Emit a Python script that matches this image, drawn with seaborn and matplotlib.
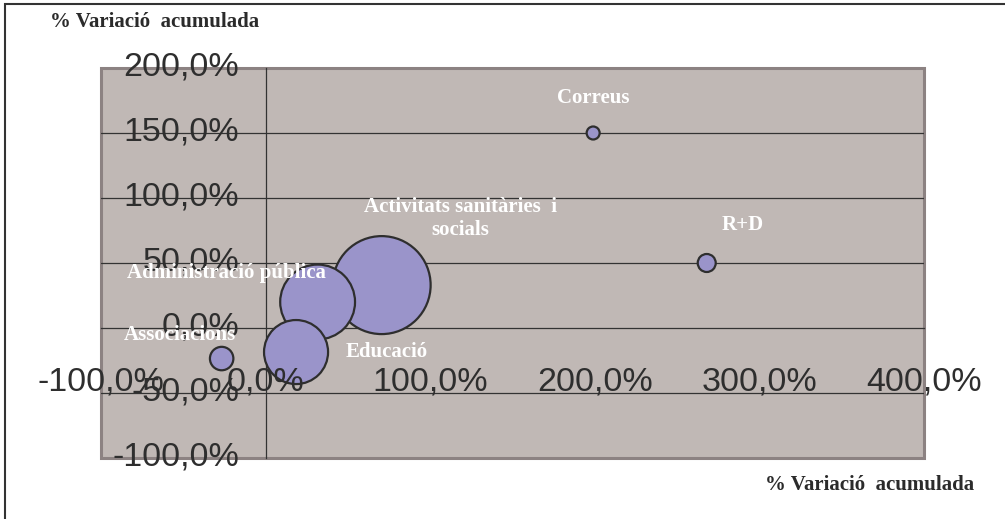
import pandas as pd
import matplotlib.pyplot as plt
import seaborn as sns
from matplotlib.patches import Rectangle
from matplotlib.transforms import ScaledTranslation

# bubble data (in %)
sectors = ['Activitats sanitàries  i\nsocials', 'Administració pública', 'Educació',
           'Associacions', 'Correus', 'R+D']
var_x = [70.5, 31.6, 18.5, -26.7, 199.0, 268.0]
var_y = [33.0, 20.0, -18.5, -23.5, 150.0, 50.0]
bubble_size = [9600, 5600, 4100, 550, 169, 324]

x_ticks = [-100, 0, 100, 200, 300, 400]
y_ticks = [-100, -50, 0, 50, 100, 150, 200]
x_ticklabels = ['-100,0%', '0,0%', '100,0%', '200,0%', '300,0%', '400,0%']
y_ticklabels = ['-100,0%', '-50,0%', '0,0%', '50,0%', '100,0%', '150,0%', '200,0%']
axis_title = '% Variació  acumulada'

df = pd.DataFrame({'sector': sectors, 'x': var_x, 'y': var_y, 'mida': bubble_size})

# label offsets in points relative to the bubble centre
label_offsets = {
    'Activitats sanitàries  i\nsocials': (57, 48),
    'Administració pública': (-66, 21),
    'Educació': (65, 0),
    'Associacions': (-30, 17),
    'Correus': (0, 25),
    'R+D': (26, 27),
}

sns.set_style('white')
plt.rcParams['font.family'] = ['Liberation Sans', 'DejaVu Sans']

fig = plt.figure(figsize=(10.05, 5.19), dpi=100)
ax = fig.add_axes([101 / 1005, (519 - 458) / 519, 823 / 1005, 390 / 519])
ax.set_facecolor('#c0b8b5')
ax.patch.set_edgecolor('#8c8282')
ax.patch.set_linewidth(2.2)

# horizontal gridlines under the bubbles
for v in y_ticks[1:-1]:
    if v != 0:
        ax.axhline(v, color='#333333', lw=0.9, zorder=1)

k = 0.5184  # px^2 -> pt^2 at 100 dpi
smin, smax = min(bubble_size), max(bubble_size)
sns.scatterplot(data=df, x='x', y='y', size='mida', sizes=(smin * k, smax * k),
                size_norm=(smin, smax), color='#9a94ca', edgecolor='#2e2e2e',
                linewidth=1.6, alpha=1, legend=False, ax=ax, zorder=3)

for _, r in df.iterrows():
    dx, dy = label_offsets[r['sector']]
    ax.annotate(r['sector'], (r['x'], r['y']), xytext=(dx, dy), textcoords='offset points',
                ha='center', va='center', multialignment='center', color='white',
                fontsize=15, fontweight='bold', family=['Liberation Serif'], zorder=5,
                linespacing=1.15)

ax.set_xlim(-100, 400)
ax.set_ylim(-100, 200)
for s in ['top', 'right']:
    ax.spines[s].set_visible(False)
ax.spines['left'].set_position(('data', 0))
ax.spines['bottom'].set_position(('data', 0))
for s in ['left', 'bottom']:
    ax.spines[s].set_color('#333333')
    ax.spines[s].set_linewidth(0.9)
    ax.spines[s].set_zorder(1.2)

ax.set_xticks(x_ticks)
ax.set_xticklabels(x_ticklabels)
ax.set_yticks(y_ticks)
ax.set_yticklabels(y_ticklabels)
ax.tick_params(axis='x', direction='out', length=6, width=0.9, color='#333333',
               labelsize=24.5, labelcolor='#2e2e2e', pad=22)
ax.tick_params(axis='y', direction='out', length=7, width=0.9, color='#333333',
               labelsize=24.5, labelcolor='#2e2e2e', pad=12)
# y tick labels sit a little above their gridlines
for lab in ax.get_yticklabels():
    lab.set_transform(lab.get_transform() + ScaledTranslation(0, 3.5 / 72, fig.dpi_scale_trans))
ax.xaxis.set_zorder(4)
ax.yaxis.set_zorder(4)
ax.set_xlabel('')
ax.set_ylabel('')

fig.text(50 / 1005, 1 - 22 / 519, axis_title, ha='left', va='center', fontsize=15,
         fontweight='bold', family=['Liberation Serif'], color='#2b2b2b')
fig.text(974 / 1005, 1 - 485 / 519, axis_title, ha='right', va='center', fontsize=15,
         fontweight='bold', family=['Liberation Serif'], color='#2b2b2b')

# outer chart border (only top and left visible in the crop)
fig.patches.append(Rectangle((5 / 1005, -0.05), 1.1, 1 - 4 / 519 + 0.05,
                             transform=fig.transFigure, fill=False,
                             edgecolor='#333333', lw=1.5))

fig.savefig('out.png', dpi=100)
